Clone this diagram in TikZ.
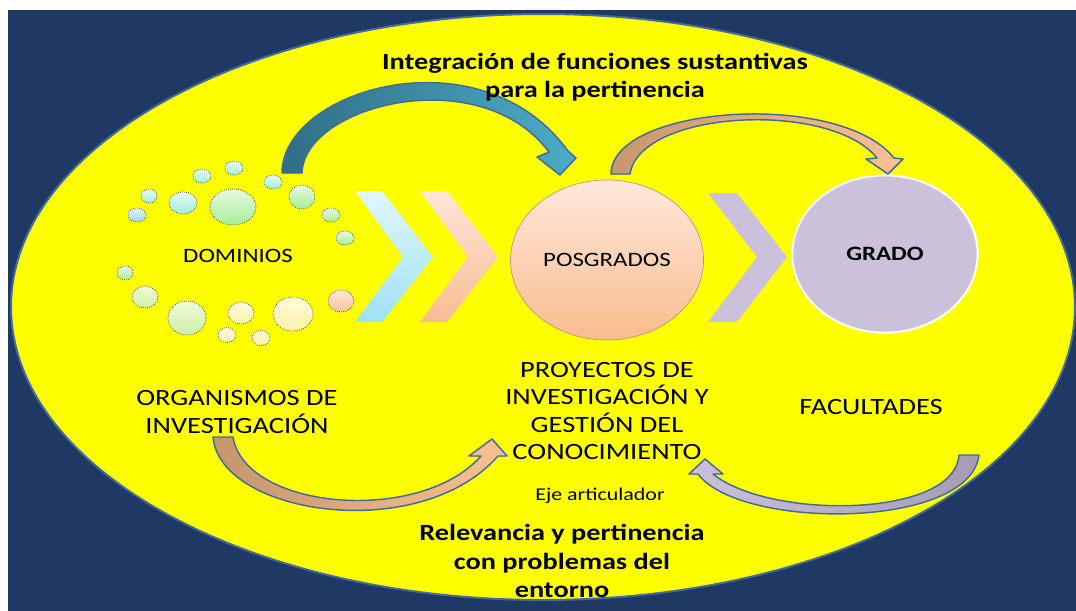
\documentclass[tikz,border=0pt]{standalone}
\usepackage{fontspec}
\setmainfont{Carlito}[FakeStretch=1.22]
\usepackage{xcolor}
\usepackage{tikz}
\usetikzlibrary{shapes}

\definecolor{navy}{RGB}{32,56,100}
\definecolor{sunyellow}{RGB}{255,255,0}
\definecolor{rimblue}{RGB}{66,106,156}
\definecolor{lavender}{RGB}{204,193,218}

\begin{document}
\begin{tikzpicture}[x=0.75pt, y=-0.75pt]

	\tikzstyle{bubble}=[draw=black!80, densely dotted, line width=0.5pt]
	\tikzstyle{bubcyan}=[top color={rgb,255:red,230;green,252;blue,250}, bottom color={rgb,255:red,160;green,238;blue,214}]
	\tikzstyle{bubblue}=[top color={rgb,255:red,222;green,245;blue,255}, bottom color={rgb,255:red,165;green,214;blue,247}]
	\tikzstyle{bubgreen}=[top color={rgb,255:red,232;green,250;blue,224}, bottom color={rgb,255:red,166;green,238;blue,150}]
	\tikzstyle{bublime}=[top color={rgb,255:red,240;green,250;blue,216}, bottom color={rgb,255:red,205;green,240;blue,165}]
	\tikzstyle{bubcream}=[top color={rgb,255:red,255;green,252;blue,220}, bottom color={rgb,255:red,250;green,240;blue,165}]
	\tikzstyle{bubpeach}=[top color={rgb,255:red,253;green,232;blue,214}, bottom color={rgb,255:red,247;green,196;blue,153}]
	\tikzstyle{bentarrow}=[draw=rimblue, line width=1.1pt, line join=round]
	\tikzstyle{bigtext}=[align=center, font=\fontsize{17.5}{20.5}\selectfont]
	\tikzstyle{boldtext}=[align=center, font=\fontsize{17.4}{21.4}\selectfont\bfseries]

	\useasboundingbox (0,0) rectangle (1076,611);
	\fill[white] (0,0) rectangle (1076,611);
	\fill[navy] (8,10) rectangle (1076,611);
	\filldraw[fill=sunyellow, draw=rimblue, line width=1.5pt] (543,307) ellipse [x radius=532, y radius=293];

	% Bubbles round the dominios
	\draw[bubble, bubcyan] (202,176) ellipse [x radius=9, y radius=7];
	\draw[bubble, bubcyan] (234,168) ellipse [x radius=9, y radius=7];
	\draw[bubble, bubcyan] (149,196) ellipse [x radius=8, y radius=7];
	\draw[bubble, bubcyan] (183,203) ellipse [x radius=14, y radius=11];
	\draw[bubble, bubgreen] (233,207) ellipse [x radius=23, y radius=18];
	\draw[bubble, bubcyan] (273,182) ellipse [x radius=9, y radius=7];
	\draw[bubble, bubgreen] (302,197) ellipse [x radius=13, y radius=12];
	\draw[bubble, bubblue] (137,215) ellipse [x radius=9, y radius=7];
	\draw[bubble, bubgreen] (331,215) ellipse [x radius=9, y radius=7];
	\draw[bubble, bubgreen] (345,238) ellipse [x radius=9, y radius=7];
	\draw[bubble, bubgreen] (125,273) ellipse [x radius=8, y radius=7];
	\draw[bubble, bublime] (145,297) ellipse [x radius=13, y radius=11];
	\draw[bubble, bublime] (187,318) ellipse [x radius=19, y radius=17];
	\draw[bubble, bubcream] (241,313) ellipse [x radius=13, y radius=11];
	\draw[bubble, bubcream] (293,314) ellipse [x radius=20, y radius=17];
	\draw[bubble, bubpeach] (341,301) ellipse [x radius=13, y radius=11];
	\draw[bubble, bubcream] (227,335) ellipse [x radius=9, y radius=7.5];
	\draw[bubble, bubcream] (261,338) ellipse [x radius=9, y radius=7.5];

	% Chevrons
	\shade[top color={rgb,255:red,226;green,246;blue,252}, bottom color={rgb,255:red,158;green,226;blue,245}]
		(355,191) -- (382,191) -- (433,257) -- (382,322) -- (355,322) -- (403,257) -- cycle;
	\shade[top color={rgb,255:red,253;green,230;blue,217}, bottom color={rgb,255:red,248;green,188;blue,146}]
		(420,191) -- (447,191) -- (498,257) -- (447,322) -- (420,322) -- (468,257) -- cycle;
	\fill[lavender] (708,193) -- (737,193) -- (787,257) -- (737,322) -- (708,322) -- (757,257) -- cycle;

	% Circles
	\node[ellipse, draw={rgb,255:red,180;green,150;blue,130}, line width=0.5pt,
		top color={rgb,255:red,253;green,233;blue,220}, bottom color={rgb,255:red,249;green,188;blue,142},
		minimum width=138pt, minimum height=120pt, font=\fontsize{15.3}{18}\selectfont] (posg) at (607,260) {POSGRADOS};
	\node[ellipse, draw=white, line width=1.5pt, fill=lavender,
		minimum width=139pt, minimum height=118pt, font=\fontsize{15.3}{18}\selectfont\bfseries] (grado) at (885,254) {GRADO};

	% Bent arrows, top
	\filldraw[bentarrow, left color={rgb,255:red,50;green,110;blue,135}, right color={rgb,255:red,75;green,172;blue,198}]
		(282,173) .. controls (282,90) and (480,30) .. (568,151) -- (576,158) -- (560,175) -- (537,157) -- (549,152)
		.. controls (480,60) and (304,105) .. (302,173) -- cycle;
	\filldraw[bentarrow, left color={rgb,255:red,200;green,150;blue,110}, right color={rgb,255:red,250;green,192;blue,144}]
		(611,174) .. controls (612,105) and (840,90) .. (894,158) -- (903,159) -- (888,174) -- (866,159) -- (877,158)
		.. controls (830,100) and (640,110) .. (630,174) -- cycle;

	% Bent arrows, bottom
	\filldraw[bentarrow, left color={rgb,255:red,196;green,149;blue,110}, right color={rgb,255:red,250;green,192;blue,143}]
		(213,437) .. controls (220,515) and (420,545) .. (498,456) -- (507,456) -- (492,439) -- (469,456) -- (481,456)
		.. controls (420,525) and (245,510) .. (233,437) -- cycle;
	\filldraw[bentarrow, left color=lavender, right color={rgb,255:red,166;green,155;blue,181}]
		(979,455) .. controls (970,530) and (740,530) .. (698,474) -- (689,474) -- (705,459) -- (723,474) -- (713,474)
		.. controls (770,520) and (955,518) .. (959,455) -- cycle;

	% Texts
	\node[boldtext] (integ) at (595,77) {Integración de funciones sustantivas\\para la pertinencia};
	\node[font=\fontsize{15.3}{18}\selectfont] (dom) at (238,256) {DOMINIOS};
	\node[bigtext] (org) at (237,412) {ORGANISMOS DE\\INVESTIGACIÓN};
	\node[bigtext] (proy) at (607,411) {PROYECTOS DE\\INVESTIGACIÓN Y\\GESTIÓN DEL\\CONOCIMIENTO};
	\node[bigtext] (fac) at (871,407) {FACULTADES};
	\node[font=\fontsize{13.5}{16}\selectfont] (eje) at (600,496) {Eje articulador};
	\node[boldtext] (rel) at (562,561) {Relevancia y pertinencia\\con problemas del\\entorno};

\end{tikzpicture}
\end{document}
